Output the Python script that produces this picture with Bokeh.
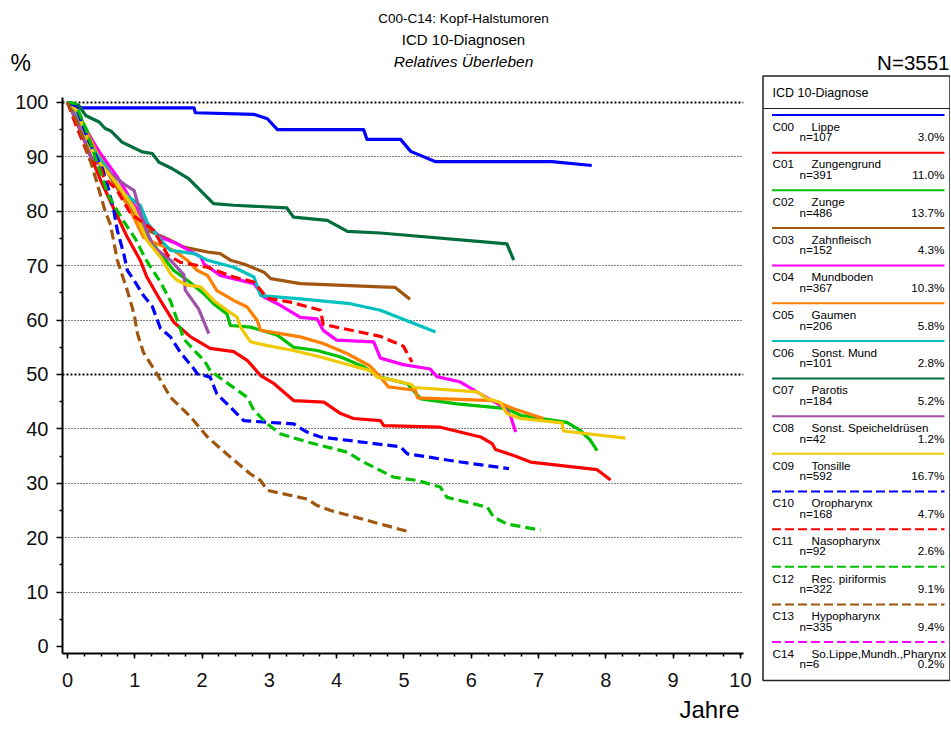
from bokeh.plotting import figure
from bokeh.layouts import row, column
from bokeh.models import Range1d, FixedTicker, Grid, ColumnDataSource, Title
from bokeh.embed import file_html
from bokeh.resources import INLINE
from bokeh.core.properties import value

SANS = '"Liberation Sans", Arial, sans-serif'

# ---------------- data ----------------
title_lines = ["C00-C14: Kopf-Halstumoren", "ICD 10-Diagnosen", "Relatives Überleben"]
n_total = "N=3551"
y_unit = "%"
x_label = "Jahre"
legend_title = "ICD 10-Diagnose"

x_ticks = [0, 1, 2, 3, 4, 5, 6, 7, 8, 9, 10]
x_minor = [i * 0.25 for i in range(41)]
y_ticks = [0, 10, 20, 30, 40, 50, 60, 70, 80, 90, 100]
y_minor = [5, 15, 25, 35, 45, 55, 65, 75, 85, 95]
grid_thin = [10, 20, 30, 40, 60, 70, 80, 90]
grid_bold = [50, 100]

codes = ["C00", "C01", "C02", "C03", "C04", "C05", "C06", "C07", "C08", "C09",
         "C10", "C11", "C12", "C13", "C14"]
names = ["Lippe", "Zungengrund", "Zunge", "Zahnfleisch", "Mundboden", "Gaumen",
         "Sonst. Mund", "Parotis", "Sonst. Speicheldrüsen", "Tonsille",
         "Oropharynx", "Nasopharynx", "Rec. piriformis", "Hypopharynx",
         "So.Lippe,Mundh.,Pharynx"]
counts = ["n=107", "n=391", "n=486", "n=152", "n=367", "n=206", "n=101", "n=184",
          "n=42", "n=592", "n=168", "n=92", "n=322", "n=335", "n=6"]
shares = ["3.0%", "11.0%", "13.7%", "4.3%", "10.3%", "5.8%", "2.8%", "5.2%",
          "1.2%", "16.7%", "4.7%", "2.6%", "9.1%", "9.4%", "0.2%"]
colors = ["#0000ff", "#ff0000", "#00c000", "#a0560e", "#ff00ff", "#ff8000",
          "#00c0c0", "#006e3c", "#a050a8", "#f0c800",
          "#0000ff", "#ff0000", "#00c000", "#a0560e", "#ff00ff"]
dashed = [False] * 10 + [True] * 5

c00_x = [0, 0.08, 0.12, 1.88, 1.9, 2.77, 2.97, 3.12, 4.4, 4.45, 4.95, 5.1, 5.47, 7.2, 7.79]
c00_y = [100, 99.2, 99.0, 99.0, 98.1, 97.8, 97.0, 95.0, 95.0, 93.2, 93.2, 91.0, 89.1, 89.1, 88.4]

c01_x = [0, 0.1, 0.32, 0.5, 0.65, 0.89, 1.08, 1.18, 1.38, 1.58, 1.83, 2.12, 2.47, 2.67, 2.87,
         3.07, 3.36, 3.81, 4.06, 4.25, 4.65, 4.7, 5.54, 6.14, 6.31, 6.36, 6.63, 6.88, 7.87, 8.07]
c01_y = [100, 97.5, 90.9, 85.5, 81.5, 75.2, 71.0, 67.9, 63.6, 59.6, 56.9, 54.8, 54.2, 52.6, 49.8,
         48.3, 45.2, 44.9, 42.8, 41.9, 41.5, 40.6, 40.3, 38.5, 37.3, 36.2, 35.1, 33.9, 32.5, 30.6]

c02_x = [0, 0.2, 0.45, 0.7, 0.95, 1.13, 1.38, 1.58, 1.78, 2.03, 2.17, 2.37, 2.42, 2.72, 3.12,
         3.36, 3.71, 4.06, 4.4, 4.65, 4.75, 5.05, 5.25, 5.79, 6.53, 6.73, 7.42, 7.62, 7.77, 7.87]
c02_y = [100, 97.0, 91.0, 85.5, 80.0, 76.5, 72.2, 69.1, 67.3, 64.8, 63.0, 61.1, 59.0, 58.7, 57.2,
         55.0, 54.4, 53.2, 51.4, 49.5, 49.2, 48.3, 45.5, 44.6, 43.7, 42.5, 41.2, 39.7, 37.9, 36.0]

c03_x = [0, 0.15, 0.4, 0.7, 0.95, 1.19, 1.49, 1.73, 2.08, 2.27, 2.42, 2.62, 2.92, 3.02, 3.46,
         4.65, 4.87, 5.09]
c03_y = [100, 97.0, 91.0, 85.0, 80.0, 76.5, 74.9, 73.4, 72.5, 72.2, 71.0, 70.3, 68.8, 67.6, 66.7,
         66.1, 66.0, 63.8]

c04_x = [0, 0.15, 0.34, 0.49, 0.74, 1.13, 1.38, 1.63, 1.98, 2.03, 2.27, 2.77, 2.92, 3.12, 3.46,
         3.71, 3.8, 4.0, 4.55, 4.65, 4.99, 5.39, 5.49, 5.84, 6.14, 6.48, 6.58, 6.66]
c04_y = [100, 97.0, 93.6, 90.6, 86.3, 78.3, 75.2, 74.0, 71.6, 70.3, 68.2, 66.7, 64.2, 63.0, 60.5,
         60.2, 58.1, 56.3, 56.0, 53.0, 51.8, 51.0, 49.6, 48.6, 46.4, 44.0, 42.5, 39.4]

c05_x = [0, 0.2, 0.45, 0.7, 0.96, 1.13, 1.33, 1.58, 1.78, 1.93, 2.08, 2.22, 2.47, 2.67, 2.82,
         2.87, 3.46, 3.8, 4.16, 4.5, 4.65, 4.77, 5.17, 5.2, 6.33, 6.63, 7.07]
c05_y = [100, 96.5, 90.5, 85.5, 79.5, 75.2, 74.0, 72.8, 71.0, 69.1, 68.2, 65.4, 63.6, 62.4, 59.9,
         58.1, 56.9, 55.7, 53.8, 51.5, 49.5, 47.7, 47.1, 45.7, 45.2, 43.7, 41.9]

c06_x = [0, 0.15, 0.4, 0.64, 0.84, 0.98, 1.08, 1.19, 1.43, 1.53, 1.88, 2.08, 2.47, 2.77, 2.87,
         3.46, 4.2, 4.65, 5.47]
c06_y = [100, 97.0, 91.0, 86.9, 83.2, 82.0, 81.1, 77.8, 74.1, 72.8, 72.2, 71.0, 69.7, 67.9, 64.5,
         63.9, 63.0, 61.8, 57.8]

c07_x = [0, 0.17, 0.27, 0.47, 0.56, 0.64, 0.81, 0.96, 1.11, 1.26, 1.36, 1.56, 1.8, 2.0, 2.17,
         2.47, 3.26, 3.36, 3.86, 4.16, 4.65, 6.53, 6.63]
c07_y = [100, 99.4, 97.6, 96.4, 95.2, 94.8, 92.7, 91.8, 90.9, 90.6, 89.0, 87.8, 86.0, 83.5, 81.4,
         81.1, 80.6, 78.9, 78.3, 76.3, 76.0, 74.0, 71.0]

c08_x = [0, 0.15, 0.34, 0.59, 0.84, 0.99, 1.13, 1.28, 1.53, 1.73, 1.75, 1.95, 2.1]
c08_y = [100, 96.5, 90.0, 87.5, 85.0, 83.8, 77.7, 73.4, 71.0, 68.3, 65.5, 62.0, 57.5]

c09_x = [0, 0.14, 0.34, 0.49, 0.74, 0.98, 1.18, 1.38, 1.53, 1.63, 1.78, 1.98, 2.17, 2.37, 2.52,
         2.57, 2.72, 2.97, 3.36, 3.76, 4.2, 4.5, 4.6, 4.85, 5.1, 5.15, 6.09, 6.24, 6.43, 6.53,
         6.73, 7.35, 7.37, 8.29]
c09_y = [100, 98.5, 91.8, 88.7, 85.0, 80.8, 74.6, 71.6, 68.5, 67.3, 66.4, 66.1, 63.6, 61.8, 60.5,
         58.7, 56.0, 55.3, 54.4, 53.2, 51.7, 50.7, 49.5, 48.9, 48.2, 47.6, 46.8, 45.5, 44.9, 42.8,
         41.9, 41.1, 39.6, 38.3]

c10_x = [0, 0.12, 0.32, 0.52, 0.61, 0.69, 0.74, 0.84, 0.89, 0.99, 1.13, 1.26, 1.38, 1.53, 1.68,
         1.88, 1.93, 2.12, 2.22, 2.37, 2.62, 3.36, 3.56, 3.76, 4.95, 5.05, 5.84, 6.56]
c10_y = [100, 99.4, 92.7, 87.8, 84.1, 80.0, 76.5, 72.0, 69.1, 67.3, 64.5, 62.5, 58.5, 56.9, 54.0,
         51.0, 50.1, 49.5, 46.4, 44.6, 41.5, 40.9, 39.4, 38.5, 36.7, 35.4, 33.9, 32.7]

c11_x = [0, 0.12, 0.34, 0.49, 0.54, 0.74, 0.94, 1.08, 1.28, 1.49, 1.68, 2.08, 2.47, 2.77, 2.97,
         3.31, 3.76, 3.8, 4.65, 4.99, 5.12]
c11_y = [100, 96.0, 89.3, 88.1, 86.3, 83.8, 79.5, 78.3, 76.5, 71.9, 70.6, 69.7, 67.9, 67.0, 64.0,
         63.3, 61.8, 59.2, 57.0, 55.2, 52.3]

c12_x = [0, 0.12, 0.27, 0.42, 0.61, 0.81, 1.01, 1.16, 1.38, 1.53, 1.63, 1.73, 1.93, 2.03, 2.12,
         2.32, 2.67, 2.77, 2.97, 3.16, 3.56, 4.16, 4.4, 4.85, 5.2, 5.54, 5.64, 6.24, 6.33, 6.53, 7.03]
c12_y = [100, 99.8, 95.2, 89.6, 82.9, 78.6, 74.9, 71.2, 67.0, 63.5, 60.0, 56.5, 53.8, 52.6, 50.7,
         48.9, 45.8, 43.4, 40.9, 39.1, 37.6, 35.7, 33.9, 31.1, 30.5, 29.3, 27.4, 25.6, 23.8, 22.5, 21.4]

c13_x = [0, 0.14, 0.27, 0.42, 0.56, 0.64, 0.74, 0.89, 0.99, 1.04, 1.13, 1.33, 1.53, 1.83, 2.08,
         2.42, 2.72, 2.87, 2.97, 3.56, 3.71, 3.91, 5.1]
c13_y = [100, 96.4, 92.1, 86.0, 80.0, 77.5, 71.0, 65.4, 61.1, 57.5, 54.0, 50.1, 45.8, 42.2, 38.5,
         34.8, 31.7, 30.5, 28.7, 27.1, 25.9, 25.0, 21.0]

curves = [(c00_x, c00_y), (c01_x, c01_y), (c02_x, c02_y), (c03_x, c03_y), (c04_x, c04_y),
          (c05_x, c05_y), (c06_x, c06_y), (c07_x, c07_y), (c08_x, c08_y), (c09_x, c09_y),
          (c10_x, c10_y), (c11_x, c11_y), (c12_x, c12_y), (c13_x, c13_y)]


# ---------------- helper for text-only panels (pixel coordinates) ----------------
def blank(w, h, x0, x1, y_top, y_bot):
    f = figure(width=w, height=h, x_range=Range1d(x0, x1), y_range=Range1d(y_bot, y_top),
               x_axis_type=None, y_axis_type=None, output_backend="svg", toolbar_location=None,
               min_border_left=0, min_border_right=0, min_border_top=0, min_border_bottom=0,
               frame_align=False)
    f.outline_line_color = None
    f.xgrid.visible = False
    f.ygrid.visible = False
    f.background_fill_color = "white"
    f.border_fill_color = "white"
    return f


# ---------------- header ----------------
head = blank(755, 88, 0, 755, 0, 88)
head.text(x=[463], y=[18], text=[title_lines[0]], text_align="center",
          text_baseline="middle", text_font=value(SANS),
          text_font_size=value("13.5px"), text_color="black")
head.text(x=[463], y=[38.5], text=[title_lines[1]], text_align="center",
          text_baseline="middle", text_font=value(SANS),
          text_font_size=value("15px"), text_color="black")
head.text(x=[463], y=[60.5], text=[title_lines[2]], text_align="center",
          text_baseline="middle", text_font=value(SANS), text_font_style="italic",
          text_font_size=value("15.5px"), text_color="black")
head.text(x=[10], y=[62], text=[y_unit], text_align="left", text_baseline="middle",
          text_font=value(SANS), text_font_size=value("23px"), text_color="black")

# ---------------- main plot ----------------
p = figure(width=755, height=643, x_range=Range1d(-0.074, 10.045), y_range=Range1d(-1.29, 100.9),
           output_backend="svg", toolbar_location=None, frame_align=False,
           min_border_left=62, min_border_right=12, min_border_top=9, min_border_bottom=78)
p.outline_line_color = None
p.background_fill_color = "white"
p.border_fill_color = "white"
p.xgrid.visible = False
p.ygrid.ticker = FixedTicker(ticks=grid_thin)
p.ygrid.grid_line_color = "black"
p.ygrid.grid_line_dash = "1 2"
p.ygrid.grid_line_width = 1.2
g2 = Grid(dimension=1, ticker=FixedTicker(ticks=grid_bold), grid_line_color="black",
          grid_line_dash="2 2", grid_line_width=2)
p.add_layout(g2)

p.xaxis.ticker = FixedTicker(ticks=x_ticks, minor_ticks=x_minor)
p.yaxis.ticker = FixedTicker(ticks=y_ticks, minor_ticks=y_minor)
for ax in (p.xaxis, p.yaxis):
    ax.axis_line_width = 2
    ax.axis_line_color = "black"
    ax.major_tick_in = 0
    ax.minor_tick_in = 0
    ax.major_tick_line_width = 1.5
    ax.minor_tick_line_width = 1.5
    ax.major_tick_line_color = "black"
    ax.minor_tick_line_color = "black"
    ax.major_label_text_font = SANS
    ax.major_label_text_font_size = "20px"
    ax.major_label_text_color = "#111111"
p.xaxis.major_tick_out = 5
p.xaxis.minor_tick_out = 3
p.xaxis.major_label_standoff = 14
p.yaxis.major_tick_out = 6
p.yaxis.minor_tick_out = 3
p.yaxis.major_label_standoff = 8

# x-axis title "Jahre", right-aligned under the end of the axis
p.add_layout(Title(text=x_label, align="right", offset=4, standoff=9,
                   text_font=SANS, text_font_size="24px", text_font_style="normal",
                   text_color="black"), "below")

for i, (xs, ys) in enumerate(curves):
    kw = dict(line_color=colors[i], line_width=3.2, line_join="round")
    if dashed[i]:
        kw["line_dash"] = "10 5"
    p.line(xs, ys, **kw)

# ---------------- legend ----------------
leg = blank(195, 731, 755, 950, 0, 731)
leg.text(x=[949], y=[62], text=[n_total], text_align="right", text_baseline="middle",
         text_font=value(SANS), text_font_size=value("20.5px"), text_color="black")
leg.quad(left=[762.5], right=[949.5], top=[75.5], bottom=[680], fill_color=None,
         line_color="#222222", line_width=1.5)
leg.segment(x0=[762.5], y0=[108], x1=[949.5], y1=[108], line_color="#222222", line_width=1.2)
leg.text(x=[772], y=[92], text=[legend_title], text_align="left", text_baseline="middle",
         text_font=value(SANS), text_font_size=value("12.5px"), text_color="black")

line_y = [114.5 + 37.65 * i for i in range(len(codes))]
for i, ly in enumerate(line_y):
    kw = dict(line_color=colors[i], line_width=2)
    if dashed[i]:
        kw["line_dash"] = "9 4"
    leg.segment(x0=[771.5], y0=[ly], x1=[944], y1=[ly], **kw)

src = ColumnDataSource(dict(code=codes, name=names, n=counts, pct=shares,
                            y1=[v + 11.3 for v in line_y], y2=[v + 21.8 for v in line_y]))
common = dict(text_baseline="middle", text_font=value(SANS), text_font_size=value("11.7px"),
              text_color="black", source=src)
leg.text(x=772, y="y1", text="code", text_align="left", **common)
leg.text(x=811, y="y1", text="name", text_align="left", **common)
leg.text(x=799, y="y2", text="n", text_align="left", **common)
leg.text(x=944, y="y2", text="pct", text_align="right", **common)

layout = row(column(head, p), leg)
open("out.html", "w").write(file_html(layout, INLINE))
